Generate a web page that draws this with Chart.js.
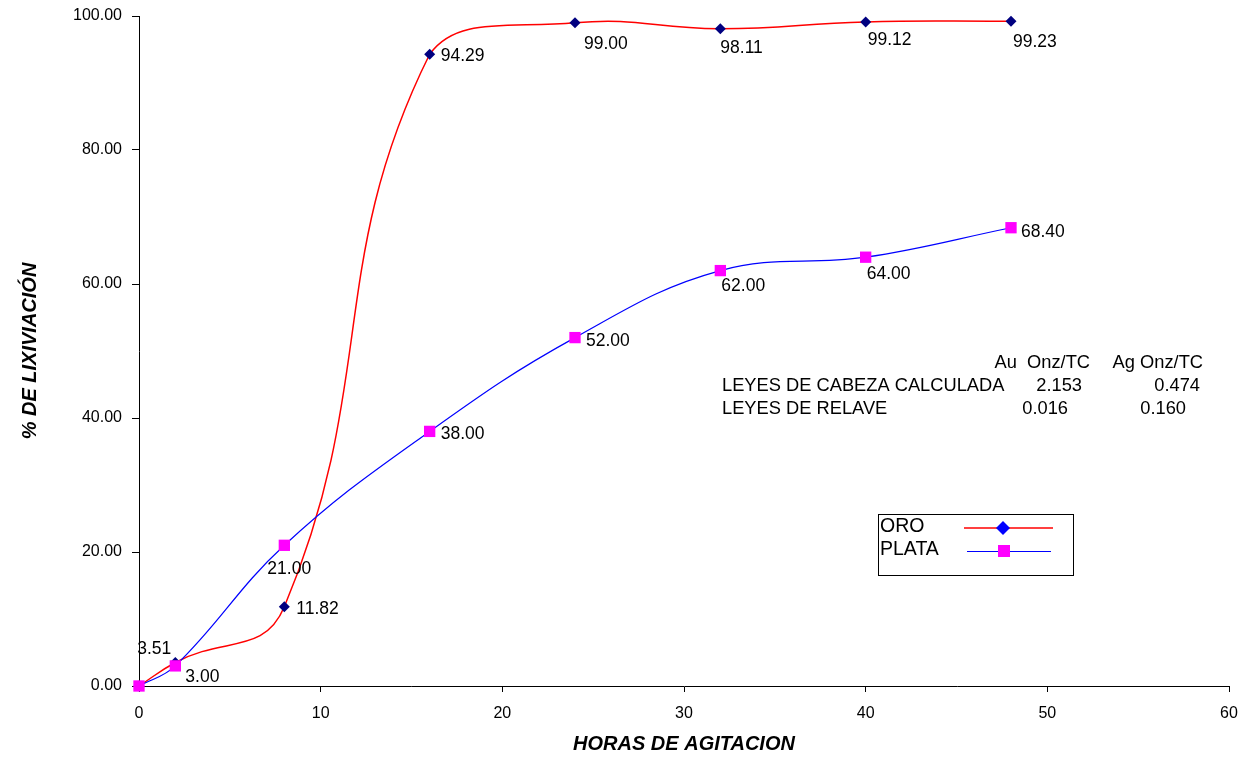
<!DOCTYPE html>
<html>
<head>
<meta charset="utf-8">
<script src="https://cdn.jsdelivr.net/npm/chart.js@4/dist/chart.umd.min.js"></script>
<style>
  html, body { margin: 0; padding: 0; background: #fff; }
  #wrap { width: 1243px; height: 757px; }
</style>
</head>
<body>
<div id="wrap"><canvas id="chart" width="1243" height="757"></canvas></div>
<script>
// hours of agitation
var horas = [0, 2, 8, 16, 24, 32, 40, 48];
// % leaching
var oro = [0.00, 3.51, 11.82, 94.29, 99.00, 98.11, 99.12, 99.23];
var plata = [0.00, 3.00, 21.00, 38.00, 52.00, 62.00, 64.00, 68.40];
var xTicks = [0, 10, 20, 30, 40, 50, 60];
var yTicks = [0, 20, 40, 60, 80, 100];

// grade table text
var tablaHeader = ['Au  Onz/TC', 'Ag Onz/TC'];
var tablaFilas = ['LEYES DE CABEZA CALCULADA', 'LEYES DE RELAVE'];
var tablaAu = ['2.153', '0.016'];
var tablaAg = ['0.474', '0.160'];

// label offsets (dx, dy) from each point, null = no label
var oroLabelPos = [null, [-4, -13, 'right'], [12, 2], [11, 2], [9, 21], [0, 20], [2, 18], [2, 21]];
var plataLabelPos = [null, [10, 11], [-17, 24], [11, 3], [11, 4], [1, 16], [1, 17], [10, 4]];

var FONT = '"Liberation Sans", Arial, sans-serif';

function pts(ys) {
  return horas.map(function (h, i) { return { x: h, y: ys[i] }; });
}

var extras = {
  id: 'extras',
  afterDatasetsDraw: function (chart) {
    var ctx = chart.ctx;
    ctx.save();
    ctx.font = '17.5px ' + FONT;
    ctx.fillStyle = '#000';
    ctx.textBaseline = 'middle';

    // dataset 0 = PLATA, dataset 1 = ORO
    [[1, oro, oroLabelPos], [0, plata, plataLabelPos]].forEach(function (d) {
      var meta = chart.getDatasetMeta(d[0]);
      meta.data.forEach(function (el, i) {
        var p = d[2][i];
        if (!p) return;
        ctx.textAlign = p[2] || 'left';
        ctx.fillText(d[1][i].toFixed(2), el.x + p[0], el.y + p[1]);
      });
    });

    // grade table
    ctx.font = '18.3px ' + FONT;
    ctx.textAlign = 'right';
    ctx.fillText(tablaHeader[0], 1090, 363);
    ctx.fillText(tablaHeader[1], 1203, 363);
    ctx.textAlign = 'left';
    ctx.fillText(tablaFilas[0], 722, 386);
    ctx.fillText(tablaFilas[1], 722, 409);
    ctx.textAlign = 'right';
    ctx.fillText(tablaAu[0], 1082, 386);
    ctx.fillText(tablaAu[1], 1068, 409);
    ctx.fillText(tablaAg[0], 1200, 386);
    ctx.fillText(tablaAg[1], 1186, 409);

    // legend box
    ctx.font = '19.5px ' + FONT;
    ctx.strokeStyle = '#000';
    ctx.lineWidth = 1;
    ctx.strokeRect(878.5, 514.5, 195, 61);
    ctx.textAlign = 'left';
    ctx.fillText('ORO', 880, 527);
    ctx.fillText('PLATA', 880, 550);
    ctx.strokeStyle = '#FF0000';
    ctx.lineWidth = 1.5;
    ctx.beginPath(); ctx.moveTo(964, 528); ctx.lineTo(1053, 528); ctx.stroke();
    ctx.fillStyle = '#0000FF';
    ctx.beginPath();
    ctx.moveTo(1003, 521); ctx.lineTo(1010, 528); ctx.lineTo(1003, 535); ctx.lineTo(996, 528);
    ctx.closePath(); ctx.fill();
    ctx.strokeStyle = '#0000FF';
    ctx.lineWidth = 1;
    ctx.beginPath(); ctx.moveTo(967, 551.5); ctx.lineTo(1051, 551.5); ctx.stroke();
    ctx.fillStyle = '#FF00FF';
    ctx.fillRect(998, 545, 12, 12);
    ctx.restore();
  }
};

new Chart(document.getElementById('chart'), {
  type: 'line',
  data: {
    datasets: [{
      label: 'PLATA',
      data: pts(plata),
      borderColor: '#0000FF',
      borderWidth: 1.2,
      tension: 0.4,
      clip: false,
      pointStyle: 'rect',
      pointRadius: 8,
      pointBackgroundColor: '#FF00FF',
      pointBorderColor: '#FF00FF',
      pointBorderWidth: 0
    }, {
      label: 'ORO',
      data: pts(oro),
      borderColor: '#FF0000',
      borderWidth: 1.5,
      tension: 0.45,
      clip: false,
      pointStyle: 'rectRot',
      pointRadius: 5.5,
      pointBackgroundColor: '#000080',
      pointBorderColor: '#000080',
      pointBorderWidth: 0
    }]
  },
  options: {
    responsive: false,
    animation: false,
    events: [],
    layout: { autoPadding: false, padding: { top: 16, right: 14, left: 0, bottom: 0 } },
    plugins: {
      legend: { display: false },
      tooltip: { enabled: false }
    },
    scales: {
      x: {
        type: 'linear',
        min: 0, max: 60,
        afterBuildTicks: function (axis) { axis.ticks = xTicks.map(function (v) { return { value: v }; }); },
        afterFit: function (axis) { axis.height = 71; axis.paddingLeft = 0; axis.paddingRight = 0; },
        grid: { display: true, drawOnChartArea: false, drawTicks: true, tickLength: 6, color: '#000' },
        border: { color: '#000', width: 1 },
        ticks: { color: '#000', font: { family: FONT, size: 16 }, padding: 12, maxRotation: 0 },
        title: { display: true, text: 'HORAS DE AGITACION', color: '#000', font: { family: FONT, size: 20, weight: 'bold', style: 'italic' }, padding: { top: 0, bottom: 1 } }
      },
      y: {
        min: 0, max: 100,
        afterBuildTicks: function (axis) { axis.ticks = yTicks.map(function (v) { return { value: v }; }); },
        afterFit: function (axis) { axis.width = 139; axis.paddingTop = 0; axis.paddingBottom = 0; },
        grid: { display: true, drawOnChartArea: false, drawTicks: true, tickLength: 7, color: '#000' },
        border: { color: '#000', width: 1 },
        ticks: { color: '#000', font: { family: FONT, size: 16 }, padding: 10, callback: function (v) { return v.toFixed(2); } },
        title: { display: true, text: '% DE LIXIVIACIÓN', color: '#000', font: { family: FONT, size: 20, weight: 'bold', style: 'italic' }, padding: { top: 18, bottom: 0 } }
      }
    }
  },
  plugins: [extras]
});
</script>
</body>
</html>
